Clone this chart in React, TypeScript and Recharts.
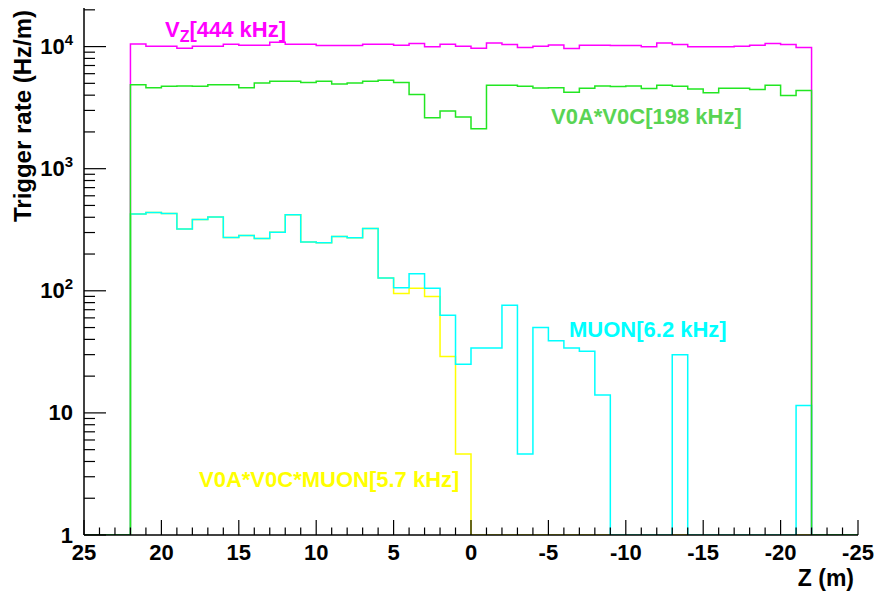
import { ComposedChart, Line, XAxis, YAxis } from 'recharts'

const W = 877
const H = 593
const FONT = '"Liberation Sans", Arial, Helvetica, sans-serif'

const Z_MAX = 25
const Z_EDGE = 22
const Y_MIN = 1
const Y_MAX = 20700

// bin contents (Hz/m), one bin per metre, from z = 22 down to z = -22
const vzRate = [
  10520, 10060, 10060, 9680, 10060, 10060, 10450, 10250, 10250, 10840, 10450,
  10450, 10190, 10190, 10190, 10450, 10450, 10250, 10590, 9950, 10450, 10060,
  9680, 10720, 10380, 9810, 10060, 10320, 9640, 10250, 10250, 10190, 10190,
  9950, 10720, 10380, 9950, 9950, 9950, 10060, 10250, 10590, 10380, 9810,
]
const v0Rate = [
  4880, 4610, 4730, 4760, 4730, 4880, 4880, 4610, 5040, 5200, 5200,
  5070, 5200, 4940, 5040, 5200, 5290, 5070, 4060, 2610, 2970, 2650,
  2120, 4820, 4820, 4730, 4580, 4610, 4220, 4550, 4760, 4700, 4760,
  4530, 4820, 4730, 4500, 4180, 4550, 4550, 4450, 4820, 3970, 4360,
]
const muonRate = [
  425, 438, 430, 320, 384, 402, 273, 284, 268, 301, 420,
  251, 247, 279, 272, 324, 127, 106, 138, 105, 63, 25,
  34, 34, 76, 4.6, 50, 39, 34, 32, 14, 0, 0,
  0, 0, 30, 0, 0, 0, 0, 0, 0, 0, 11.5,
]
const v0MuonRate = [
  425, 438, 430, 320, 384, 402, 273, 284, 268, 301, 420,
  251, 247, 279, 272, 324, 127, 95, 105, 90, 29, 4.6,
  0, 0, 0, 0, 0, 0, 0, 0, 0, 0, 0,
  0, 0, 0, 0, 0, 0, 0, 0, 0, 0, 0,
]

const yMajorTicks = [1, 10, 100, 1000, 10000]
const xMajorStep = 5

// empty bins are drawn on the axis floor, like ROOT does on a log pad
const floor = (v: number) => Math.max(v, Y_MIN)
const empty = { vz: Y_MIN, v0: Y_MIN, muon: Y_MIN, v0muon: Y_MIN }

const data = [
  { z: Z_MAX, ...empty },
  ...vzRate.map((v, i) => ({
    z: Z_EDGE - i,
    vz: floor(v),
    v0: floor(v0Rate[i]),
    muon: floor(muonRate[i]),
    v0muon: floor(v0MuonRate[i]),
  })),
  { z: -Z_EDGE, ...empty },
  { z: -Z_MAX, ...empty },
]

const xTicks = Array.from({ length: 2 * Z_MAX + 1 }, (_, i) => Z_MAX - i)
const yTicks = yMajorTicks.flatMap(d =>
  [1, 2, 3, 4, 5, 6, 7, 8, 9].map(m => m * d)).filter(v => v <= Y_MAX)

function XTick({ x, y, payload }: any) {
  const v = payload.value as number
  const major = v % xMajorStep === 0
  return (
    <g>
      <line x1={x} x2={x} y1={y} y2={y - (major ? 15 : 7.5)} stroke="#000" strokeWidth={1.2} />
      {major && (
        <text x={x} y={y + 17} textAnchor="middle" dominantBaseline="central"
          fontFamily={FONT} fontWeight="bold" fontSize={22} fill="#000">
          {v}
        </text>
      )}
    </g>
  )
}

function YTick({ x, y, payload }: any) {
  const v = payload.value as number
  const major = yMajorTicks.includes(v)
  const exp = Math.round(Math.log10(v))
  return (
    <g>
      <line x1={x} x2={x + (major ? 22 : 11)} y1={y} y2={y} stroke="#000" strokeWidth={1.2} />
      {major && (
        <text x={x - 11} y={y} textAnchor="end" dominantBaseline="central"
          fontFamily={FONT} fontWeight="bold" fontSize={22} fill="#000">
          {exp === 0 ? '1' : exp === 1 ? '10' : (
            <>10<tspan dy={-8} fontSize={15}>{exp}</tspan></>
          )}
        </text>
      )}
    </g>
  )
}

const labelStyle = { fontFamily: FONT, fontWeight: 'bold' as const, fontSize: 22 }

export default function App() {
  return (
    <div style={{ position: 'absolute', left: 0, top: 0, width: W, height: H, background: '#fff' }}>
      <ComposedChart width={W} height={H} data={data}
        margin={{ top: 8, right: 19, bottom: 0, left: 0 }}>
        <XAxis dataKey="z" type="number" domain={[-Z_MAX, Z_MAX]} reversed
          ticks={xTicks} interval={0} height={58} tickSize={0} tickMargin={0}
          tick={(p: any) => <XTick {...p} />}
          axisLine={{ stroke: '#000', strokeWidth: 1.5 }} />
        <XAxis xAxisId="top" orientation="top" dataKey="z" type="number"
          domain={[-Z_MAX, Z_MAX]} reversed height={0} tick={false} tickLine={false}
          axisLine={{ stroke: '#000', strokeWidth: 1.5 }} />
        <YAxis type="number" scale="log" domain={[Y_MIN, Y_MAX]} allowDataOverflow
          ticks={yTicks} interval={0} width={84} tickSize={0} tickMargin={0}
          tick={(p: any) => <YTick {...p} />}
          axisLine={{ stroke: '#000', strokeWidth: 1.5 }} />
        <YAxis yAxisId="right" orientation="right" type="number" domain={[0, 1]}
          width={0} tick={false} tickLine={false}
          axisLine={{ stroke: '#000', strokeWidth: 1.5 }} />
        <Line type="stepAfter" dataKey="vz" stroke="#ff00ff" strokeWidth={1.5}
          dot={false} isAnimationActive={false} />
        <Line type="stepAfter" dataKey="v0muon" stroke="#ffff00" strokeWidth={1.5}
          dot={false} isAnimationActive={false} />
        <Line type="stepAfter" dataKey="muon" stroke="#00ffff" strokeWidth={1.5}
          dot={false} isAnimationActive={false} />
        <Line type="stepAfter" dataKey="v0" stroke="#22e622" strokeWidth={1.5}
          dot={false} isAnimationActive={false} />
      </ComposedChart>

      <svg width={W} height={H} style={{ position: 'absolute', left: 0, top: 0, pointerEvents: 'none' }}>
        <text x={31} y={10} transform="rotate(-90 31 10)" textAnchor="end"
          {...labelStyle} fontSize={24} fill="#000">Trigger rate (Hz/m)</text>
        <text x={854} y={586} textAnchor="end" {...labelStyle} fontSize={23} fill="#000">Z (m)</text>

        <text x={165} y={37} {...labelStyle} fill="#ff00ff">
          V<tspan dy={5} fontSize={16}>Z</tspan><tspan dy={-5}>[444 kHz]</tspan>
        </text>
        <text x={551} y={124} {...labelStyle} fill="#59d454">V0A*V0C[198 kHz]</text>
        <text x={569} y={337} {...labelStyle} fill="#00ffff">MUON[6.2 kHz]</text>
        <text x={199} y={487} {...labelStyle} fill="#ffff00">V0A*V0C*MUON[5.7 kHz]</text>
      </svg>
    </div>
  )
}
